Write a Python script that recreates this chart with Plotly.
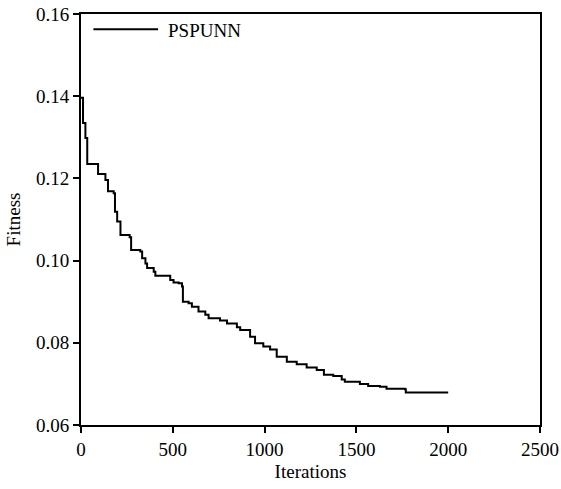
import plotly.graph_objects as go

# Data (step curve, values at change points)
iterations = [0, 11, 24, 34, 93, 133, 147, 178, 185, 197, 215, 265, 273, 323, 333,
              351, 360, 396, 405, 486, 504, 532, 550, 555, 586, 604, 640, 677, 695,
              757, 795, 849, 867, 921, 948, 993, 1030, 1066, 1121, 1175, 1229, 1284,
              1323, 1374, 1420, 1437, 1519, 1564, 1628, 1664, 1764, 1769, 2000]
fitness = [0.1396, 0.1335, 0.1298, 0.1235, 0.1211, 0.1196, 0.1169, 0.1164, 0.1119,
           0.1095, 0.1062, 0.1057, 0.1026, 0.1022, 0.1006, 0.0993, 0.0982, 0.0973,
           0.0963, 0.0953, 0.0947, 0.0945, 0.0937, 0.0900, 0.0896, 0.0888, 0.0876,
           0.0868, 0.0860, 0.0854, 0.0847, 0.0838, 0.0831, 0.0815, 0.0799, 0.0791,
           0.0784, 0.0766, 0.0754, 0.0748, 0.0740, 0.0734, 0.0722, 0.0719, 0.0711,
           0.0705, 0.0700, 0.0695, 0.0693, 0.0688, 0.0687, 0.0679, 0.0679]
series_name = "PSPUNN"
x_ticks = [0, 500, 1000, 1500, 2000, 2500]
y_ticks = [0.06, 0.08, 0.10, 0.12, 0.14, 0.16]
y_tick_labels = ["0.06", "0.08", "0.10", "0.12", "0.14", "0.16"]

FONT = "Liberation Serif, Times New Roman, serif"

fig = go.Figure()
fig.add_trace(go.Scatter(
    x=iterations, y=fitness, mode="lines", name=series_name,
    line=dict(color="black", width=2, shape="hv"), showlegend=False,
))

# Legend drawn as a line sample plus label (matching the reference's long sample)
fig.add_shape(type="line", xref="paper", yref="paper",
              x0=0.027, x1=0.168, y0=0.963, y1=0.963,
              line=dict(color="black", width=2))
fig.add_annotation(text=series_name, xref="paper", yref="paper",
                   x=0.186, y=0.960, xanchor="left", yanchor="middle",
                   showarrow=False, font=dict(family=FONT, size=19, color="black"))

axis_common = dict(
    showline=True, linecolor="black", linewidth=2, mirror=True,
    ticks="outside", ticklen=6, tickwidth=2, tickcolor="black",
    showgrid=False, zeroline=False, automargin=False,
    ticklabeloverflow="allow",
    tickfont=dict(family=FONT, size=19, color="black"),
)

fig.update_layout(
    template="none",
    width=561, height=489,
    margin=dict(l=80.5, r=20.5, t=14, b=64),
    paper_bgcolor="white", plot_bgcolor="white",
    font=dict(family=FONT, size=19, color="black"),
    xaxis=dict(range=[0, 2500], tickvals=x_ticks,
               title=dict(text="Iterations", font=dict(family=FONT, size=19), standoff=6),
               **axis_common),
    yaxis=dict(range=[0.06, 0.16], tickvals=y_ticks, ticktext=y_tick_labels,
               title=dict(text="Fitness", font=dict(family=FONT, size=19), standoff=10),
               **axis_common),
)

# Remove the page's default body margin so the figure sits at the window's corner
fig.write_html("out.html", config={"displayModeBar": False},
               post_script="document.body.style.margin='0';")
